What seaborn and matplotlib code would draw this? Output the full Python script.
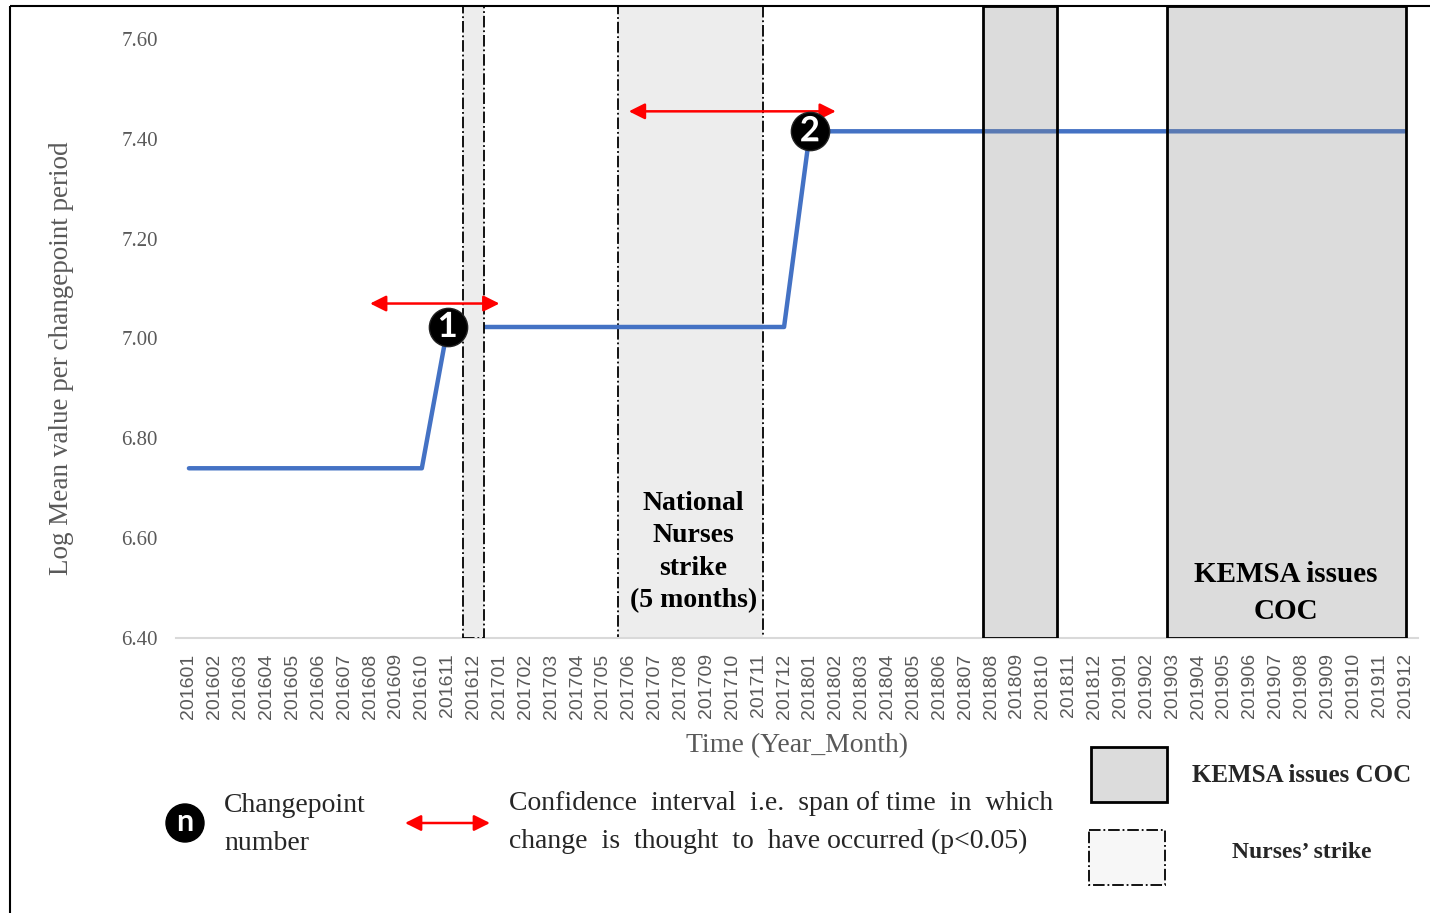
import numpy as np
import pandas as pd
import matplotlib.pyplot as plt
import matplotlib.patheffects as pe
from matplotlib.patches import Rectangle, Circle
import seaborn as sns

sns.set_theme(style="white")
plt.rcParams['font.family'] = ['Liberation Serif', 'DejaVu Serif']

# data
months = ["201601", "201602", "201603", "201604", "201605", "201606",
          "201607", "201608", "201609", "201610", "201611", "201612",
          "201701", "201702", "201703", "201704", "201705", "201706",
          "201707", "201708", "201709", "201710", "201711", "201712",
          "201801", "201802", "201803", "201804", "201805", "201806",
          "201807", "201808", "201809", "201810", "201811", "201812",
          "201901", "201902", "201903", "201904", "201905", "201906",
          "201907", "201908", "201909", "201910", "201911", "201912"]
log_mean = [6.74] * 10 + [7.023] * 14 + [7.415] * 24

changepoint_months = ["201611", "201801"]
changepoint_ids = ["1", "2"]

ci_start = ["201608", "201706"]
ci_end = ["201701", "201802"]
ci_level = [7.07, 7.455]

strike_start = ["201612", "201706"]
strike_end = ["201612", "201711"]
kemsa_start = ["201808", "201903"]
kemsa_end = ["201810", "201912"]

y_ticks = [6.40, 6.60, 6.80, 7.00, 7.20, 7.40, 7.60]

GREY_TXT = "#595959"
LINE_BLUE = "#4472C4"

df = pd.DataFrame({"month": months, "value": log_mean})
df["pos"] = np.arange(len(df))
pos_of = dict(zip(df["month"], df["pos"]))
val_of = dict(zip(df["month"], df["value"]))

fig = plt.figure(figsize=(14.3, 9.13), dpi=100)
ax = fig.add_axes([176 / 1430, 1 - 638 / 913, (1418 - 176) / 1430, (638 - 6) / 913])

# shaded periods (edge offsets in months)
strike_pad = [(0.4, 0.4), (0.4, 0.2)]
for i, (s, e) in enumerate(zip(strike_start, strike_end)):
    ax.axvspan(pos_of[s] - strike_pad[i][0], pos_of[e] + strike_pad[i][1],
               facecolor="#EDEDED", edgecolor="black", linestyle="-.",
               linewidth=1.3, zorder=1 if i else 4)

kemsa_pad = [(0.3, 0.55), (0.2, 0.05)]
for i, (s, e) in enumerate(zip(kemsa_start, kemsa_end)):
    ax.axvspan(pos_of[s] - kemsa_pad[i][0], pos_of[e] + kemsa_pad[i][1],
               facecolor=(0.55, 0.55, 0.55, 0.3), edgecolor="black",
               linewidth=2, zorder=4)

sns.lineplot(data=df, x="pos", y="value", color=LINE_BLUE, linewidth=3.2,
             ax=ax, zorder=3)

# confidence interval arrows
for s, e, lvl in zip(ci_start, ci_end, ci_level):
    ax.annotate("", xy=(pos_of[e], lvl), xytext=(pos_of[s], lvl),
                arrowprops=dict(arrowstyle="<|-|>", color="red", lw=1.8,
                                mutation_scale=24, shrinkA=0, shrinkB=0),
                zorder=5)

# changepoint markers
cp = pd.DataFrame({"pos": [pos_of[m] for m in changepoint_months],
                   "value": [val_of[m] for m in changepoint_months]})
sns.scatterplot(data=cp, x="pos", y="value", s=760, color="black",
                edgecolor="#222222", linewidth=1, ax=ax, zorder=6)
for (_, r), lab in zip(cp.iterrows(), changepoint_ids):
    ax.text(r["pos"], r["value"], lab, color="white", fontsize=25,
            family="Lato", fontweight="bold", ha="center", va="center", zorder=7,
            path_effects=[pe.withStroke(linewidth=2, foreground="black")])

ax.text((pos_of[strike_start[1]] + pos_of[strike_end[1]]) / 2, 6.572,
        "National\nNurses\nstrike\n(5 months)", ha="center", va="center",
        fontsize=20, fontweight="bold", color="black", linespacing=1.4, zorder=8)
ax.text((pos_of[kemsa_start[1]] + pos_of[kemsa_end[1]]) / 2 - 0.1, 6.49,
        "KEMSA issues\nCOC", ha="center", va="center",
        fontsize=21, fontweight="bold", color="black", linespacing=1.45, zorder=8)

# axes styling
ax.set_xlim(-0.5, len(months) - 0.5)
ax.set_ylim(6.40, 7.666)
ax.set_xticks(df["pos"])
ax.set_xticklabels(months, rotation=90, fontsize=14, color=GREY_TXT,
                   family="Liberation Sans")
ax.set_yticks(y_ticks)
ax.set_yticklabels([f"{t:.2f}" for t in y_ticks], fontsize=15, color=GREY_TXT)
ax.tick_params(axis="x", length=0, pad=11)
ax.tick_params(axis="y", length=0, pad=13)
ax.set_xlabel("")
ax.set_ylabel("")
for side in ["left", "right", "top"]:
    ax.spines[side].set_visible(False)
ax.spines["bottom"].set_color("#D9D9D9")
ax.spines["bottom"].set_linewidth(1.5)
ax.patch.set_alpha(0)

ax.text(-0.092, 0.443, "Log Mean value per changepoint period", rotation=90,
        transform=ax.transAxes, ha="center", va="center", fontsize=19.5,
        color=GREY_TXT)
ax.text(0.5, -0.171, "Time (Year_Month)", transform=ax.transAxes,
        ha="center", va="center", fontsize=20, color=GREY_TXT)

# overlay in pixel units for frame and legend
ov = fig.add_axes([0, 0, 1, 1])
ov.set_xlim(0, 1430)
ov.set_ylim(913, 0)
ov.axis("off")
ov.patch.set_alpha(0)

ov.add_patch(Rectangle((10, 6), 1440, 920, fill=False, edgecolor="black",
                       linewidth=1.5))

ov.add_patch(Circle((185, 823), 19, color="black"))
ov.text(185, 822, "n", color="white", fontsize=22, family="Lato",
        fontweight="bold", ha="center", va="center")
ov.text(224, 805, "Changepoint", fontsize=20, ha="left", va="center")
ov.text(224, 843, "number", fontsize=20, ha="left", va="center")

ov.annotate("", xy=(490, 823), xytext=(405, 823),
            arrowprops=dict(arrowstyle="<|-|>", color="red", lw=1.8,
                            mutation_scale=24, shrinkA=0, shrinkB=0))
ov.text(509, 803, "Confidence  interval  i.e.  span of time  in  which",
        fontsize=20, ha="left", va="center")
ov.text(509, 841, "change  is  thought  to  have occurred (p<0.05)",
        fontsize=20, ha="left", va="center")

ov.add_patch(Rectangle((1091, 747), 76, 55, facecolor="#DCDCDC",
                       edgecolor="black", linewidth=2))
ov.text(1302, 775, "KEMSA issues COC", fontsize=18, fontweight="bold",
        ha="center", va="center")
ov.add_patch(Rectangle((1089, 830), 76, 55, facecolor="#F7F7F7",
                       edgecolor="black", linestyle="-.", linewidth=1.3))
ov.text(1302, 853, "Nurses\u2019 strike", fontsize=17, fontweight="bold",
        ha="center", va="center")

fig.savefig("out.png", dpi=100, facecolor="white")
